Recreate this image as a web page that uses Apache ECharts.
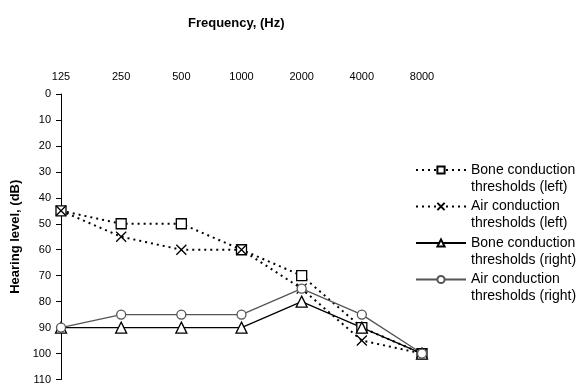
<!DOCTYPE html>
<html>
<head>
<meta charset="utf-8">
<script src="https://cdn.jsdelivr.net/npm/echarts@6/dist/echarts.min.js"></script>
<style>html,body{margin:0;padding:0;background:#fff}#c{width:585px;height:385px}</style>
</head>
<body>
<div id="c"></div>
<script>
var frequencies = ['125', '250', '500', '1000', '2000', '4000', '8000'];
var boneLeft = [45, 50, 50, 60, 70, 90, 100];
var airLeft = [45, 55, 60, 60, 75, 95, 100];
var boneRight = [90, 90, 90, 90, 80, 90, 100];
var airRight = [90, 85, 85, 85, 75, 85, 100];
var seriesNames = [
  'Bone conduction\nthresholds (left)',
  'Air conduction\nthresholds (left)',
  'Bone conduction\nthresholds (right)',
  'Air conduction\nthresholds (right)'
];
var xTitle = 'Frequency, (Hz)';
var yTitle = 'Hearing level, (dB)';

var FONT = 'Liberation Sans, Arial, sans-serif';
var chart = echarts.init(document.getElementById('c'), null, {renderer: 'canvas'});

var legendTops = [144.5, 181, 217.5, 254];
var legends = seriesNames.map(function (n, i) {
  return {
    data: [n],
    left: 415,
    top: legendTops[i],
    orient: 'vertical',
    padding: 0,
    itemWidth: 50,
    itemHeight: 9,
    selectedMode: false,
    formatter: function (name) { return '\n' + name; },
    textStyle: {fontFamily: FONT, fontSize: 14, color: '#000', lineHeight: 17}
  };
});

function mk(name, data, symbol, size, color, lineType, width) {
  return {
    name: name,
    type: 'line',
    data: data,
    symbol: symbol,
    symbolSize: size,
    showAllSymbol: true,
    lineStyle: {color: color, width: width, type: lineType},
    itemStyle: {color: symbol.indexOf('path') === 0 ? color : '#fff', borderColor: color, borderWidth: 1.3},
    emphasis: {disabled: true},
    animation: false
  };
}

chart.setOption({
  backgroundColor: '#fff',
  animation: false,
  title: {
    text: xTitle, left: 183, top: 12,
    textStyle: {fontFamily: FONT, fontSize: 13, fontWeight: 'bold', color: '#000'}
  },
  legend: legends,
  grid: {left: 61, top: 94, right: 163, bottom: 3, containLabel: false},
  xAxis: {
    type: 'category',
    data: frequencies,
    position: 'top',
    boundaryGap: false,
    axisLine: {show: false},
    axisTick: {show: false},
    axisLabel: {fontFamily: FONT, fontSize: 11, color: '#000', margin: 12},
    splitLine: {show: false}
  },
  yAxis: {
    type: 'value',
    inverse: true,
    min: 0, max: 110, interval: 10,
    name: yTitle,
    nameLocation: 'middle',
    nameGap: 38,
    nameRotate: 90,
    nameTextStyle: {fontFamily: FONT, fontSize: 13, fontWeight: 'bold', color: '#000'},
    axisLine: {show: true, lineStyle: {color: '#000', width: 1}},
    axisTick: {show: true, length: 5, lineStyle: {color: '#000'}},
    axisLabel: {fontFamily: FONT, fontSize: 11, color: '#000', margin: 10},
    splitLine: {show: false}
  },
  series: [
    mk(seriesNames[0], boneLeft, 'rect', 10, '#000', [2, 4], 2),
    mk(seriesNames[1], airLeft, 'path://M0,0L10,10M0,10L10,0', 10, '#000', [2, 4], 2),
    mk(seriesNames[2], boneRight, 'triangle', 11, '#000', 'solid', 1.3),
    mk(seriesNames[3], airRight, 'circle', 9, '#555', 'solid', 1.3)
  ]
});
</script>
</body>
</html>
